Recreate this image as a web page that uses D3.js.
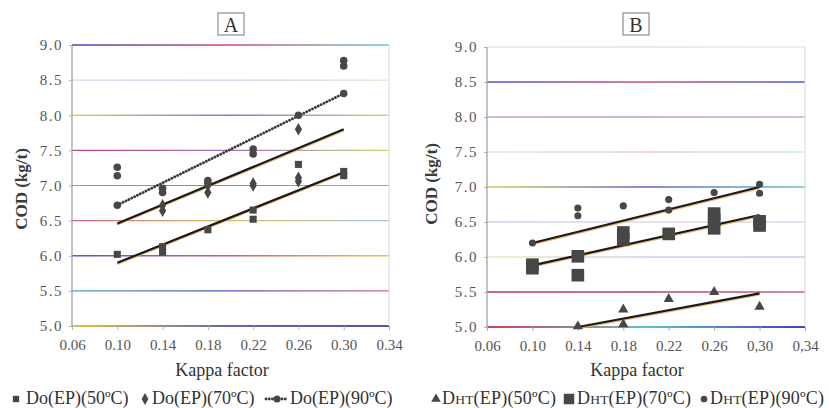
<!DOCTYPE html>
<html>
<head>
<meta charset="utf-8">
<script src="https://cdn.jsdelivr.net/npm/d3@7"></script>
<style>
  html, body { margin: 0; padding: 0; background: #fff; }
  svg { display: block; }
  svg text { font-family: "Liberation Serif", "DejaVu Serif", "Times New Roman", Times, serif !important; }
</style>
</head>
<body>
<svg id="chart" width="829" height="408"></svg>
<script>
// ---- data ----
const kappaTicks = [0.06, 0.10, 0.14, 0.18, 0.22, 0.26, 0.30, 0.34];
const kappaLabelsA = ["0.06", "0.10", "0.14", "0.18", "0.22", "0.26", "0.30", "0.34"];
const kappaLabelsB = ["0.06", "0.10", "0.14", "0.18", "0.22", "0.26", "0,30", "0,34"];
const codTicks = [5.0, 5.5, 6.0, 6.5, 7.0, 7.5, 8.0, 8.5, 9.0];

// Panel A: Do(EP) stage
const doEP50 = [[0.10, 6.02], [0.14, 6.05], [0.14, 6.13], [0.18, 6.37], [0.22, 6.52], [0.22, 6.65], [0.26, 7.30], [0.30, 7.14], [0.30, 7.20]];
const doEP70 = [[0.14, 6.64], [0.14, 6.72], [0.18, 6.90], [0.18, 7.00], [0.22, 7.00], [0.22, 7.03], [0.26, 7.06], [0.26, 7.11], [0.26, 7.80]];
const doEP90 = [[0.10, 6.72], [0.10, 7.14], [0.10, 7.26], [0.14, 6.90], [0.14, 6.96], [0.18, 7.04], [0.18, 7.07], [0.22, 7.45], [0.22, 7.52], [0.26, 8.00], [0.30, 8.31], [0.30, 8.70], [0.30, 8.78]];
const doEP50Fit = [[0.10, 5.90], [0.30, 7.19]];
const doEP70Fit = [[0.10, 6.46], [0.30, 7.80]];
const doEP90Fit = [[0.10, 6.72], [0.30, 8.31]];

// Panel B: DHT(EP) stage
const dhtEP50 = [[0.14, 5.01], [0.18, 5.04], [0.18, 5.25], [0.22, 5.40], [0.26, 5.50], [0.30, 5.29]];
const dhtEP70 = [[0.10, 5.84], [0.10, 5.89], [0.14, 6.01], [0.14, 5.74], [0.18, 6.25], [0.18, 6.35], [0.22, 6.33], [0.26, 6.41], [0.26, 6.53], [0.26, 6.62], [0.30, 6.45], [0.30, 6.51]];
const dhtEP90 = [[0.10, 6.20], [0.14, 6.59], [0.14, 6.70], [0.18, 6.73], [0.22, 6.67], [0.22, 6.82], [0.26, 6.65], [0.26, 6.92], [0.30, 6.91], [0.30, 7.04]];
const dhtEP50Fit = [[0.14, 5.00], [0.30, 5.48]];
const dhtEP70Fit = [[0.10, 5.88], [0.30, 6.60]];
const dhtEP90Fit = [[0.10, 6.20], [0.30, 7.00]];

// ---- drawing ----
const serif = "'Liberation Serif', 'DejaVu Serif', serif";
const svg = d3.select("#chart").attr("font-family", serif);
const defs = svg.append("defs");
const markFill = "#474747";

// gridline tints per value (left, middle, right) and stroke width
const gridTintsA = {
  "9": [["#3b4cc0", "#d04a6a", "#6cc8d8"], 1.5],
  "8.5": [["#d8c8e8", "#c8b8e0", "#e0e0c0"], 1],
  "8": [["#b8e070", "#9a70c8", "#c8d890"], 1.3],
  "7.5": [["#c84080", "#a070c8", "#c8d870"], 1.3],
  "7": [["#9090d8", "#b070c0", "#a0a0d8"], 1.2],
  "6.5": [["#d06080", "#d8c060", "#a0c8d0"], 1.2],
  "6": [["#5060c8", "#d06070", "#e0c860"], 1.3],
  "5.5": [["#50a0c0", "#5050c0", "#d07080"], 1.3],
  "5": [["#d8c840", "#7060b0", "#6050a0"], 2]
};
const gridTintsB = {
  "9": [["#d8d8e0", "#d0d0e0", "#e0e0e8"], 1],
  "8.5": [["#5050d0", "#d05070", "#4060d0"], 1.5],
  "8": [["#8080c8", "#9070c0", "#9090c8"], 1.2],
  "7.5": [["#c0e0e0", "#e0b0c8", "#b0e0e0"], 1],
  "7": [["#d0d050", "#6060c8", "#60c8c8"], 1.4],
  "6.5": [["#c0b0e0", "#d0c8e0", "#c8c0e0"], 1],
  "6": [["#e0e0a0", "#c0b0e0", "#b0b0d8"], 1],
  "5.5": [["#c03060", "#b04070", "#d06080"], 1.5],
  "5": [["#d04050", "#60c0d0", "#4040c0"], 2]
};

function drawPanel(cfg) {
  const x = d3.scaleLinear().domain([0.06, 0.34]).range([cfg.left, cfg.right]);
  const y = d3.scaleLinear().domain([5.0, 9.0]).range([cfg.bottom, cfg.top]);
  const g = svg.append("g");

  // gridlines
  codTicks.forEach((v, i) => {
    const tint = cfg.tints[String(v)];
    const id = cfg.id + "-grid-" + i;
    const grad = defs.append("linearGradient").attr("id", id)
      .attr("gradientUnits", "userSpaceOnUse")
      .attr("x1", cfg.left).attr("x2", cfg.right).attr("y1", 0).attr("y2", 0);
    tint[0].forEach((c, k) => grad.append("stop")
      .attr("offset", k / (tint[0].length - 1)).attr("stop-color", c));
    g.append("line")
      .attr("x1", cfg.left).attr("x2", cfg.right)
      .attr("y1", y(v)).attr("y2", y(v))
      .attr("stroke", `url(#${id})`).attr("stroke-width", tint[1]);
  });

  // plot frame: left axis and right edge
  g.append("line").attr("x1", cfg.left).attr("x2", cfg.left)
    .attr("y1", y(9)).attr("y2", y(5)).attr("stroke", "#9a9a9a").attr("stroke-width", 1.2);
  g.append("line").attr("x1", cfg.right).attr("x2", cfg.right)
    .attr("y1", y(9)).attr("y2", y(5)).attr("stroke", "#d8d8d8").attr("stroke-width", 1);

  // axes
  const xAxis = d3.axisBottom(x).tickValues(kappaTicks)
    .tickFormat((d, i) => cfg.xLabels[i]).tickSize(4).tickPadding(6);
  const gx = g.append("g").attr("transform", `translate(0,${cfg.bottom})`).call(xAxis);
  gx.attr("font-family", serif);
  gx.select(".domain").remove();
  gx.selectAll("line").attr("stroke", "#b0b0b0");
  gx.selectAll("text").attr("font-size", 15).attr("fill", "#555").attr("dy", "0.95em");

  const yAxis = d3.axisLeft(y).tickValues(codTicks)
    .tickFormat(d3.format(".1f")).tickSize(3).tickPadding(6);
  const gy = g.append("g").attr("transform", `translate(${cfg.left},0)`).call(yAxis);
  gy.attr("font-family", serif);
  gy.select(".domain").remove();
  gy.selectAll("line").attr("stroke", "#b0b0b0");
  gy.selectAll("text").attr("font-size", 15).attr("fill", "#555").attr("letter-spacing", "1.5px");

  // axis titles
  g.append("text").attr("x", cfg.xTitleX).attr("y", 376)
    .attr("text-anchor", "middle").attr("font-size", 18).attr("fill", "#333")
    .text("Kappa factor");
  g.append("text")
    .attr("transform", `translate(${cfg.yTitleX},${cfg.yTitleY}) rotate(-90)`)
    .attr("text-anchor", "middle").attr("font-size", 17).attr("font-weight", "bold")
    .attr("fill", "#3a3a3a").text("COD (kg/t)");

  // panel letter in a box
  const tb = g.append("g").attr("transform", `translate(${cfg.boxX},13)`);
  tb.append("rect").attr("x", 0).attr("y", 0).attr("width", 26).attr("height", 22)
    .attr("fill", "#fff").attr("stroke", "#777").attr("stroke-width", 1);
  tb.append("text").attr("x", 13).attr("y", 18.5).attr("text-anchor", "middle")
    .attr("font-size", 20).attr("fill", "#333").text(cfg.letter);

  // fitted trend lines (with the faint warm fringe of the print)
  const line = d3.line().x(d => x(d[0])).y(d => y(d[1]));
  cfg.fits.forEach(f => {
    if (!f.dotted) {
      g.append("path").datum(f.data).attr("d", line)
        .attr("transform", "translate(0,1.2)")
        .attr("fill", "none").attr("stroke", "#e3a654").attr("stroke-width", 2).attr("opacity", 0.8);
      g.append("path").datum(f.data).attr("d", line)
        .attr("fill", "none").attr("stroke", "#1a1a1a").attr("stroke-width", 2.2);
    } else {
      g.append("path").datum(f.data).attr("d", line)
        .attr("fill", "none").attr("stroke", "#3a3a3a").attr("stroke-width", 2.8)
        .attr("stroke-dasharray", "0.1,3.1").attr("stroke-linecap", "round");
    }
  });

  // markers
  cfg.series.forEach(s => {
    g.append("g").selectAll("path").data(s.data).join("path")
      .attr("transform", d => `translate(${x(d[0])},${y(d[1])})`)
      .attr("d", d3.symbol().type(s.symbol).size(s.size))
      .attr("fill", markFill);
  });
}

drawPanel({
  id: "A", letter: "A", left: 72, right: 389, top: 45, bottom: 326,
  tints: gridTintsA, xLabels: kappaLabelsA, xTitleX: 222, yTitleX: 27, yTitleY: 189, boxX: 218,
  fits: [{ data: doEP50Fit }, { data: doEP70Fit }, { data: doEP90Fit, dotted: true }],
  series: [
    { data: doEP50, symbol: d3.symbolSquare, size: 50 },
    { data: doEP70, symbol: d3.symbolDiamond, size: 45 },
    { data: doEP90, symbol: d3.symbolCircle, size: 45 }
  ]
});

drawPanel({
  id: "B", letter: "B", left: 487, right: 805, top: 47, bottom: 327,
  tints: gridTintsB, xLabels: kappaLabelsB, xTitleX: 637, yTitleX: 437, yTitleY: 184, boxX: 623,
  fits: [{ data: dhtEP50Fit }, { data: dhtEP70Fit }, { data: dhtEP90Fit }],
  series: [
    { data: dhtEP50, symbol: d3.symbolTriangle, size: 45 },
    { data: dhtEP70, symbol: d3.symbolSquare, size: 160 },
    { data: dhtEP90, symbol: d3.symbolCircle, size: 40 }
  ]
});

// ---- legends ----
const lg = svg.append("g").attr("fill", "#333").attr("font-size", 18);
const legendY = 404;

// Panel A legend
lg.append("path").attr("d", d3.symbol().type(d3.symbolSquare).size(40)())
  .attr("transform", `translate(16,${legendY - 5})`).attr("fill", markFill);
lg.append("text").attr("x", 26).attr("y", legendY).text("Do(EP)(50ºC)");
lg.append("path").attr("d", d3.symbol().type(d3.symbolDiamond).size(40)())
  .attr("transform", `translate(145,${legendY - 5})`).attr("fill", markFill);
lg.append("text").attr("x", 152).attr("y", legendY).text("Do(EP)(70ºC)");
lg.append("line").attr("x1", 266).attr("x2", 287).attr("y1", legendY - 5).attr("y2", legendY - 5)
  .attr("stroke", "#3a3a3a").attr("stroke-width", 2.8)
  .attr("stroke-dasharray", "0.1,3.1").attr("stroke-linecap", "round");
lg.append("path").attr("d", d3.symbol().type(d3.symbolCircle).size(40)())
  .attr("transform", `translate(277,${legendY - 5})`).attr("fill", markFill);
lg.append("text").attr("x", 290).attr("y", legendY).text("Do(EP)(90ºC)");

// Panel B legend: DHT with small-capital letters
function dhtLabel(xPos, temp) {
  const t = lg.append("text").attr("x", xPos).attr("y", legendY).attr("letter-spacing", "0.2px");
  t.append("tspan").text("D");
  t.append("tspan").attr("font-size", 13.5).text("HT");
  t.append("tspan").text(`(EP)(${temp})`);
}
lg.append("path").attr("d", d3.symbol().type(d3.symbolTriangle).size(40)())
  .attr("transform", `translate(436,${legendY - 5})`).attr("fill", markFill);
dhtLabel(442, "50ºC");
lg.append("path").attr("d", d3.symbol().type(d3.symbolSquare).size(110)())
  .attr("transform", `translate(569,${legendY - 5})`).attr("fill", markFill);
dhtLabel(577, "70ºC");
lg.append("path").attr("d", d3.symbol().type(d3.symbolCircle).size(35)())
  .attr("transform", `translate(704,${legendY - 5})`).attr("fill", markFill);
dhtLabel(710, "90ºC");
</script>
</body>
</html>
